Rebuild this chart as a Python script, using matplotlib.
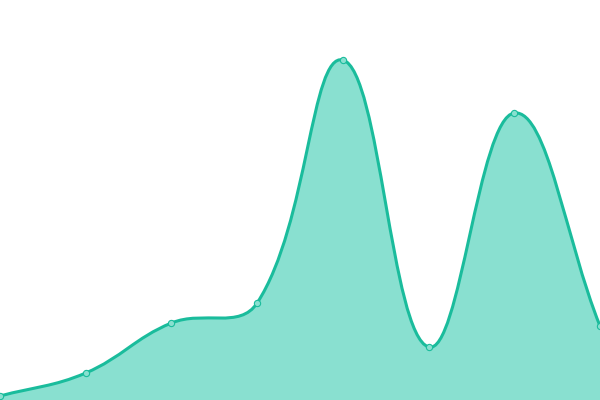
import numpy as np
from matplotlib import pyplot as plt
from matplotlib.path import Path
from matplotlib.patches import PathPatch

# values (baseline 0 at bottom, top 400)
labels = ['1', '2', '3', '4', '5', '6', '7', '8']
values = [4, 27, 77, 97, 340, 53, 287, 74]

line_color = '#1abc9c'
fill_color = '#89e0d0'

fig = plt.figure(figsize=(6, 4), dpi=100)
ax = fig.add_axes([0, 0, 1, 1])
ax.set_xlim(0, len(values) - 1)
ax.set_ylim(0, 400)
ax.axis('off')

# chart.js-like spline (tension 0.4), computed in display space
x = np.arange(len(values))
pts = ax.transData.transform(np.column_stack([x, values]))
t = 0.4
n = len(pts)
cprev = pts.copy()
cnext = pts.copy()
for i in range(n):
    p0 = pts[max(i - 1, 0)]
    p1 = pts[i]
    p2 = pts[min(i + 1, n - 1)]
    d01 = np.hypot(*(p1 - p0))
    d12 = np.hypot(*(p2 - p1))
    tot = d01 + d12
    s01 = d01 / tot if tot else 0
    s12 = d12 / tot if tot else 0
    cprev[i] = p1 - t * s01 * (p2 - p0)
    cnext[i] = p1 + t * s12 * (p2 - p0)

verts = [pts[0]]
codes = [Path.MOVETO]
for i in range(n - 1):
    verts += [cnext[i], cprev[i + 1], pts[i + 1]]
    codes += [Path.CURVE4] * 3
inv = ax.transData.inverted()
verts_d = inv.transform(np.array(verts))

line_path = Path(verts_d, codes)
fill_verts = list(verts_d) + [[x[-1], 0], [x[0], 0], verts_d[0]]
fill_codes = codes + [Path.LINETO, Path.LINETO, Path.CLOSEPOLY]
ax.add_patch(PathPatch(Path(fill_verts, fill_codes), facecolor=fill_color,
                       edgecolor='none', clip_on=False))
ax.add_patch(PathPatch(line_path, facecolor='none', edgecolor=line_color,
                       lw=2.2, clip_on=False, capstyle='round', joinstyle='round'))
ax.plot(x, values, 'o', ms=4.5, mfc=fill_color, mec=line_color, mew=0.8,
        clip_on=False)

plt.savefig('out.png', dpi=100)
